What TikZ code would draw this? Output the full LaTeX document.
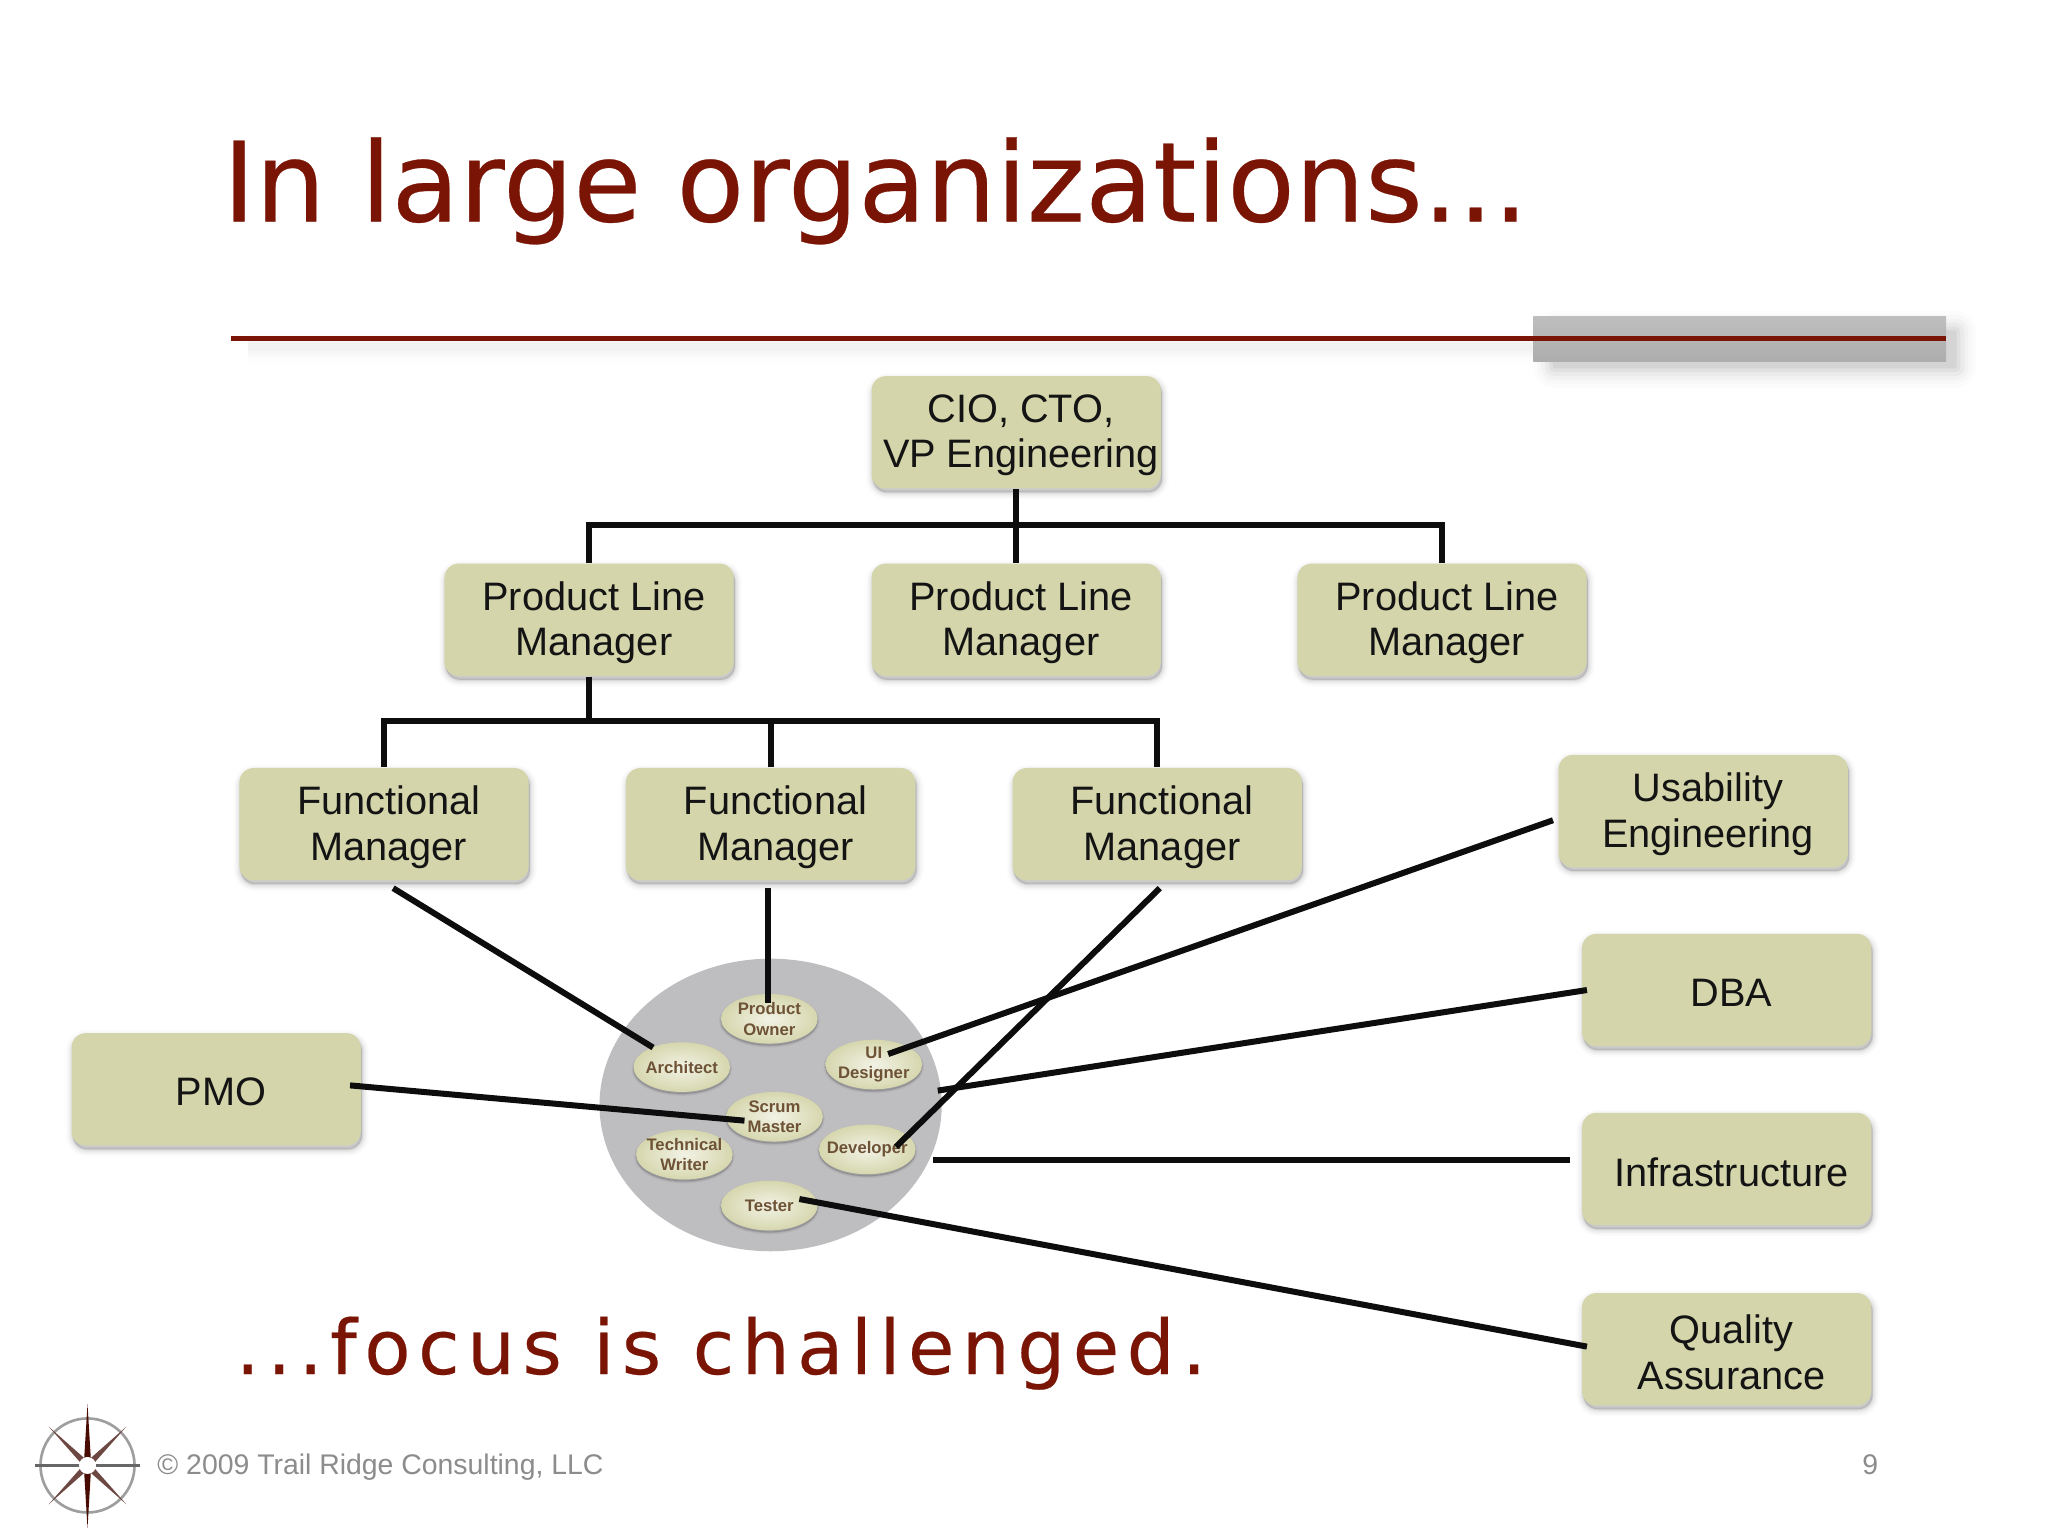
\documentclass[tikz,border=0pt]{standalone}
\usepackage{fontspec}
\usetikzlibrary{shapes.geometric,shadows,calc}
\setmainfont{Liberation Sans}
\newfontfamily\titlefont[FakeBold=0.25]{DejaVu Sans}
\newfontfamily\subfont[LetterSpace=9.9,FakeBold=0.3]{DejaVu Sans}
\definecolor{boxfill}{HTML}{D4D5AA}
\definecolor{titlered}{HTML}{7A1505}
\definecolor{teamgray}{HTML}{BEBEC1}
\definecolor{ovaltext}{HTML}{6E5236}
\definecolor{footgray}{HTML}{8C8C8C}
\definecolor{bartop}{HTML}{BDBEBD}
\definecolor{barbot}{HTML}{ADADAD}
\newlength{\ux}\setlength{\ux}{0.013061cm}
\tikzset{
  softshadow/.style={
    general shadow={shadow xshift=1*\ux,shadow yshift=-3*\ux,fill=black,draw=black,line width=11*\ux,opacity=.012},
    general shadow={shadow xshift=1*\ux,shadow yshift=-3*\ux,fill=black,draw=black,line width=8.5*\ux,opacity=.02},
    general shadow={shadow xshift=1*\ux,shadow yshift=-3*\ux,fill=black,draw=black,line width=6*\ux,opacity=.03},
    general shadow={shadow xshift=1*\ux,shadow yshift=-3*\ux,fill=black,draw=black,line width=3.5*\ux,opacity=.04},
    general shadow={shadow xshift=1*\ux,shadow yshift=-3*\ux,fill=black,draw=black,line width=1.5*\ux,opacity=.05}},
  ovalshadow/.style={
    general shadow={shadow xshift=0*\ux,shadow yshift=-1.5*\ux,fill=black,draw=black,line width=3*\ux,opacity=.05},
    general shadow={shadow xshift=0*\ux,shadow yshift=-1.5*\ux,fill=black,draw=black,line width=1.2*\ux,opacity=.08}},
  box/.style={rectangle,rounded corners=11*\ux,minimum width=221.5*\ux,minimum height=86*\ux,inner sep=0pt,
    fill=boxfill,softshadow},
  boxtext/.style={align=center,inner sep=0pt,xshift=3.7*\ux,yshift=-2.2*\ux,text=black!92,
    font=\fontsize{11.3}{13}\selectfont},
  team/.style={ellipse,minimum width=262*\ux,minimum height=224*\ux,inner sep=0pt,fill=teamgray},
  oval/.style={ellipse,minimum width=74*\ux,minimum height=38*\ux,inner sep=0pt,
    inner color=boxfill!30!white,outer color=boxfill!95!white,ovalshadow},
  ovaltxt/.style={align=center,inner sep=0pt,text=ovaltext,
    font=\fontsize{4.75}{5.9}\selectfont\bfseries},
  link/.style={line width=4.6*\ux,black!95}
}
\newcommand{\bx}[4]{\node[box] (#1) at (#2,#3) {}; \node[boxtext] (#1-t) at (#1) {#4};}
\newcommand{\ov}[4]{\node[oval] (#1) at (#2,#3) {}; \node[ovaltxt] (#1-t) at (#1) {#4};}
\begin{document}
\begin{tikzpicture}[x=0.013061cm,y=-0.013061cm]
\useasboundingbox (0,0) rectangle (1568,1176);
\fill[white] (0,0) rectangle (1568,1176);

% title rule and bar
\foreach \w/\o in {16/.012,13/.016,10/.022,7/.03,4/.04,1/.05}{
  \fill[black,opacity=\o,rounded corners=\w*\ux] (1190-\w,254-\w) rectangle (1497+\w,281+\w);
  \fill[black,opacity=\o*.3] (190,262-\w*.5) rectangle (1190,268+\w*.7);
}
\shade[top color=bartop,bottom color=barbot] (1174,242) rectangle (1490,277);
\fill[titlered] (177,257.2) rectangle (1490,260.8);

% titles
\node[anchor=base west,inner sep=0pt,text=titlered,font=\titlefont\fontsize{31.5}{36}\selectfont] (title) at (170,169.5) {In large organizations...};
\node[anchor=base west,inner sep=0pt,text=titlered,font=\subfont\fontsize{21.5}{25}\selectfont] (subtitle) at (180,1052) {...focus is challenged.};

% team
\node[team] (teamc) at (590,846) {};
\ov{po}{589}{780}{Product\\Owner}
\ov{arch}{522}{817}{Architect}
\ov{ui}{669}{815}{UI\\Designer}
\ov{sm}{593}{855}{Scrum\\Master}
\ov{tw}{524}{884}{Technical\\Writer}
\ov{dev}{664}{880}{Developer}
\ov{tester}{589}{923}{Tester}

% boxes
\bx{cio}{778}{331}{CIO, CTO,\\VP Engineering}
\bx{plma}{451}{474.5}{Product Line\\Manager}
\bx{plmb}{778}{474.5}{Product Line\\Manager}
\bx{plmc}{1104}{474.5}{Product Line\\Manager}
\bx{fma}{294}{631}{Functional\\Manager}
\bx{fmb}{590}{631}{Functional\\Manager}
\bx{fmc}{886}{631}{Functional\\Manager}
\bx{ue}{1304}{621}{Usability\\Engineering}
\bx{dba}{1322}{758}{DBA}
\bx{inf}{1322}{895}{Infrastructure}
\bx{qa}{1322}{1033}{Quality\\Assurance}
\bx{pmo}{165.5}{834}{PMO}

% hierarchy connectors
\draw[link] (cio.south) -- (plmb.north);
\draw[link] (plma.north) |- (778,402) -| (plmc.north);
\draw[link] (plma.south) -- (451,552);
\draw[link] (fma.north) |- (451,552) -| (fmc.north);
\draw[link] (fmb.north) -- (590,552);

% straight connectors
\draw[link] ($(fma)+(7,49)$) -- ($(arch)+(-22,-15)$);
\draw[link] ($(fmb)+(-2,49)$) -- ($(po)+(-1,-12)$);
\draw[link] ($(fmc)+(2,49)$) -- ($(dev)+(22,-2)$);
\draw[link] ($(ue)+(-115,7)$) -- ($(ui)+(11,-8)$);
\draw[link] ($(dba)+(-107,0)$) -- ($(teamc)+(128,-11)$);
\draw[link] ($(inf)+(-120,-7)$) -- ($(teamc)+(124,42)$);
\draw[link] ($(qa)+(-107,-2)$) -- ($(tester)+(23,-5)$);
\draw[link] ($(pmo)+(102.5,-3)$) -- ($(sm)+(-23,3)$);

% footer
\node[anchor=base west,inner sep=0pt,text=footgray,font=\fontsize{8.08}{9}\selectfont] (copy) at (120,1129) {© 2009 Trail Ridge Consulting, LLC};
\node[anchor=base,inner sep=0pt,text=footgray,font=\fontsize{8.08}{9}\selectfont] (pageno) at (1432,1129) {9};

% compass logo
\draw[black!38,line width=.75pt] (67,1122) circle (36);
\foreach \a in {45,135,225,315}{
  \fill[black!50!titlered!75] ($(67,1122)+(\a:42)$) -- ($(67,1122)+(\a+90:2.6)$) -- (67,1122) -- ($(67,1122)+(\a-90:2.6)$) -- cycle;
}
\draw[black!60,line width=.7pt] (27,1122) -- (107,1122);
\fill[titlered!60!black] (67,1075) -- (69.5,1116) -- (67,1122) -- (64.5,1116) -- cycle;
\fill[titlered!60!black] (67,1170) -- (69.5,1128) -- (67,1122) -- (64.5,1128) -- cycle;
\fill[white] (67,1122) circle (6.5);
\end{tikzpicture}
\end{document}
